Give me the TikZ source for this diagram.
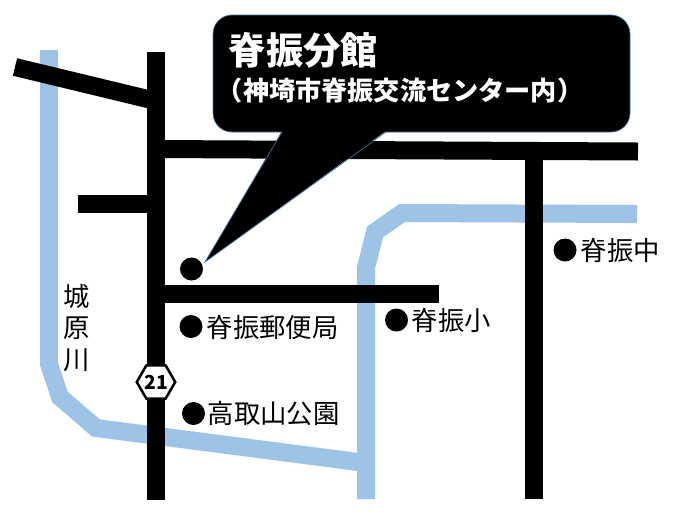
\documentclass[tikz,border=0pt]{standalone}
\usepackage{fontspec}
\setmainfont{Noto Sans CJK JP}
\usetikzlibrary{shapes.geometric}
\definecolor{rivercol}{HTML}{9DC3E6}
\definecolor{edgecol}{HTML}{41719C}
\tikzset{
  road/.style={line width=0.36cm,black},
  river/.style={line width=0.36cm,rivercol},
  placedot/.style={circle,fill=black,inner sep=0pt,minimum size=0.46cm},
  placelabel/.style={anchor=west,inner sep=0pt,font=\fontsize{15}{17.9}\selectfont},
}
\begin{document}
\begin{tikzpicture}[x=0.02cm,y=-0.02cm]
\useasboundingbox (0,0) rectangle (682,525);
\draw[river] (49,50) -- (49,364) -- (60,397) -- (96,428) -- (366,463) ; % lower river
\draw[river] (366,499) -- (366,268) -- (375,232) -- (402,213) -- (637,214) ; % upper river
\draw[road] (156,52) -- (156,500) ; % route 21
\draw[road] (15,67) -- (156,101) ; % diagonal
\draw[road] (78,204) -- (156,204) ; % stub
\draw[road] (156,149) -- (638,151.5) ; % north road
\draw[road] (156,294) -- (439,294) ; % south road
\draw[road] (534,150) -- (534,499) ; % east road
\draw[fill=black,draw=edgecol,line width=0.4pt,rounded corners=0.38cm] (213,15) -- (630,15) -- (630,132) -- (213,132) -- cycle ; % box
\fill[black] (282,131) -- (205,262) -- (386,131) -- cycle ; % tail
\draw[edgecol,line width=0.4pt] (282,132) -- (205,262) -- (386,132) ; % tail edge
\draw (228.5,50) node[anchor=west,inner sep=0pt,text=white,font=\fontsize{21.2}{24}\selectfont\bfseries] (title) {脊振分館};
\draw (216.5,91) node[anchor=west,inner sep=0pt,text=white,font=\fontsize{14.9}{17}\selectfont\bfseries] (subtitle) {（神埼市脊振交流センター内）};
\draw (191.5,269) node[placedot] (dotA) {}; % branch
\draw (191,326.5) node[placedot] (dotB) {};
\draw (206.5,327) node[placelabel] (post) {脊振郵便局};
\draw (193.5,413.5) node[placedot] (dotC) {};
\draw (207.5,414) node[placelabel] (park) {高取山公園};
\draw (396.5,320) node[placedot] (dotD) {};
\draw (411.5,320.5) node[placelabel] (school) {脊振小};
\draw (565,250) node[placedot] (dotE) {};
\draw (580.5,250.5) node[placelabel] (middle) {脊振中};
\draw (77,328) node[align=center,inner sep=0pt,font=\fontsize{15}{17.9}\selectfont] (rivername) {城\\原\\川};
\draw (156,382) node[regular polygon,regular polygon sides=6,draw=black,fill=white,line width=0.05cm,minimum size=0.76cm,inner sep=0pt,font=\fontsize{11}{12}\selectfont\bfseries] (rt21) {21};
\end{tikzpicture}
\end{document}
